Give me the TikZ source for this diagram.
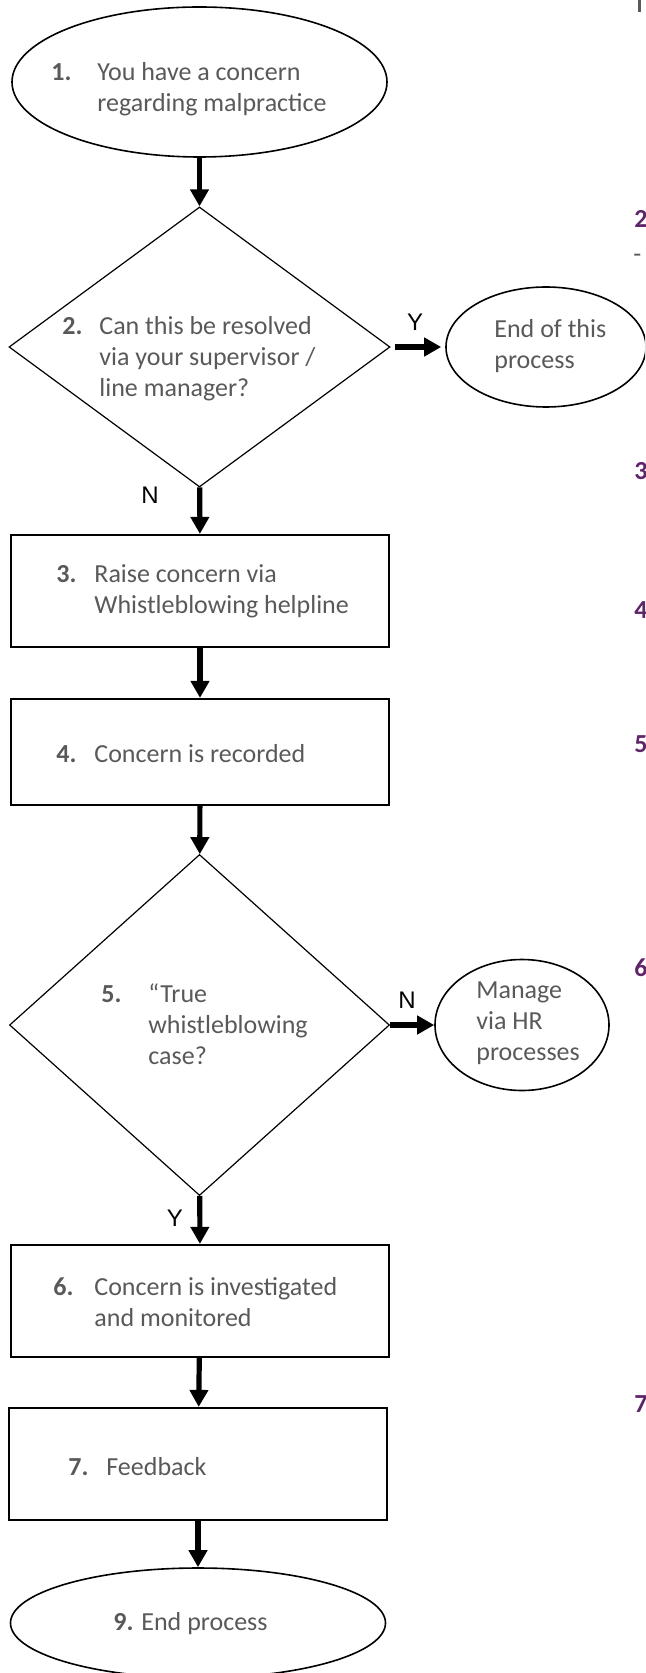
\documentclass[tikz,border=0pt]{standalone}
\usepackage{fontspec}
\setmainfont{Carlito}
\newfontfamily\ynfont{Liberation Sans}
\usetikzlibrary{arrows.meta,shapes.geometric}
\definecolor{txtgray}{RGB}{89,89,89}
\definecolor{numpurple}{RGB}{95,37,105}
\newcommand{\steptxt}[3]{\makebox[#2][l]{\bfseries #1}%
  \begin{tabular}[t]{@{}l@{}}#3\end{tabular}}

\begin{document}
\begin{tikzpicture}[
  x=0.5pt, y=-0.5pt,
  oval/.style={draw,ellipse,line width=0.8pt,inner sep=0pt},
  decision/.style={draw,diamond,line width=0.6pt,inner sep=0pt},
  stepbox/.style={draw,rectangle,line width=1.1pt,inner sep=0pt,
                  minimum width=189pt,minimum height=56pt},
  txt/.style={anchor=base west,inner sep=0pt,text=txtgray,
              font=\fontsize{13}{15.5}\selectfont},
  yn/.style={inner sep=0pt,font=\ynfont\fontsize{12}{14}\selectfont},
  side/.style={anchor=base west,inner sep=0pt,text=numpurple,
               font=\fontsize{13}{15.5}\selectfont\bfseries},
  arr/.style={-{Triangle[length=8.5pt,width=9pt]},line width=2.6pt}
]
\useasboundingbox (0,0) rectangle (645,1673);
\clip (0,0) rectangle (645,1673);
% Start
\node[oval,minimum width=187.5pt,minimum height=75pt] (concern) at (199.5,82) {};
\node[txt] (concerntxt) at (51,81)
  {\steptxt{1.}{23pt}{You have a concern\\regarding malpractice}};
% Supervisor decision
\node[decision,minimum width=190.5pt,minimum height=140pt] (resolve) at (199.5,347) {};
\node[txt] (resolvetxt) at (62,335)
  {\steptxt{2.}{18.5pt}{Can this be resolved\\via your supervisor /\\line manager?}};
\node[oval,minimum width=100pt,minimum height=60pt] (endthis) at (546,347) {};
\node[txt] (endthistxt) at (494,338)
  {\begin{tabular}[t]{@{}l@{}}End of this\\process\end{tabular}};
% Helpline
\node[stepbox] (raise) at (200,591) {};
\node[txt] (raisetxt) at (56,582)
  {\steptxt{3.}{19pt}{Raise concern via\\Whistleblowing helpline}};
% Recorded
\node[stepbox,minimum height=53pt] (record) at (200,752) {};
\node[txt] (recordtxt) at (56,762) {\steptxt{4.}{19pt}{Concern is recorded}};
% True case decision
\node[decision,minimum width=190pt,minimum height=170.5pt] (truecase) at (199.5,1025) {};
\node[txt] (truecasetxt) at (101,1002)
  {\steptxt{5.}{23.5pt}{“True\\whistleblowing\\case?}};
\node[oval,minimum width=87pt,minimum height=65.5pt] (hr) at (522,1025) {};
\node[txt] (hrtxt) at (476,998)
  {\begin{tabular}[t]{@{}l@{}}Manage\\via HR\\processes\end{tabular}};
% Investigation
\node[stepbox] (investigate) at (200,1301) {};
\node[txt] (investigatetxt) at (53,1295)
  {\steptxt{6.}{20.5pt}{Concern is investigated\\and monitored}};
% Feedback
\node[stepbox] (feedback) at (198,1464) {};
\node[txt] (feedbacktxt) at (68,1475) {\steptxt{7.}{19pt}{Feedback}};
% End
\node[oval,minimum width=187.5pt,minimum height=55pt] (finish) at (198,1623) {};
\node[txt] (finishtxt) at (113,1630) {\steptxt{9.}{14pt}{End process}};
% Arrows
\draw[arr] (concern) -- (resolve);
\draw[arr,shorten <=2pt,shorten >=2pt] (resolve.east) -- (endthis.west);
\draw[arr] (resolve) -- (raise);
\draw[arr] (raise) -- (record);
\draw[arr] (record) -- (truecase);
\draw[arr] (truecase.east) -- (hr.west);
\draw[arr] (truecase) -- (investigate);
\draw[arr] (investigate) -- (feedback);
\draw[arr] (feedback) -- (finish);
% Y / N
\node[yn] (yes1) at (415,322) {Y};
\node[yn] (no1) at (150,495) {N};
\node[yn] (no2) at (407,1000) {N};
\node[yn] (yes2) at (175,1218) {Y};
% Cut-off column on the right
\foreach \d/\y in {2/228,3/480,4/618,5/752,6/976,7/1412}
  \node[side] (side\d) at (634,\y) {\d};
\node[txt] (sidedash) at (633,263) {-};
\node[txt,anchor=south west] (sidetop) at (638,12) {\rule{1.5pt}{8pt}};
\end{tikzpicture}
\end{document}
